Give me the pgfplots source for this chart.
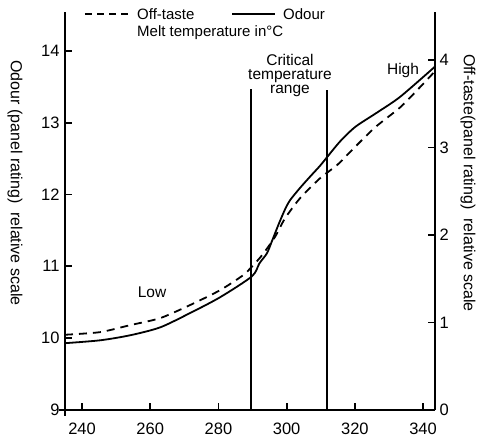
\documentclass[border=0pt]{standalone}
\usepackage{pgfplots}
\pgfplotsset{compat=1.18}
\usepackage{fontspec}
\setmainfont{Liberation Sans}
\begin{document}
\begin{tikzpicture}
\pgfplotsset{
 base/.style={
  scale only axis, width=370pt, height=398pt,
  xmin=235, xmax=343.5,
  tick align=inside, major tick length=7pt,
  tick style={line width=1.8pt, black},
  axis line style={-, line width=2.2pt},
  tick label style={font=\fontsize{16.5}{18}\selectfont},
  /pgf/number format/assume math mode=true,
  clip=false,
 }
}
\begin{axis}[base,
  ymin=9, ymax=14.54,
  axis x line*=bottom, axis y line*=left,
  xtick={240,260,...,340}, ytick={9,...,14},
  x axis line style={shorten <=-6pt},
  y axis line style={shorten <=-6pt},
  xticklabel style={yshift=-9pt},
  yticklabel style={xshift=-2pt},
]
% Odour (solid, left axis)
\addplot[black, line width=1.8pt, smooth, tension=0.45] coordinates {
(235.0,9.93)(245.3,9.97)(254.1,10.04)(262.9,10.15)(271.7,10.35)(280.5,10.57)
(289.8,10.86)(292.0,11.04)(294.2,11.18)(295.6,11.34)(297.6,11.58)(299.5,11.79)
(301.0,11.92)(303.9,12.09)(306.9,12.25)(309.8,12.40)(312.2,12.54)(315.7,12.74)
(320.1,12.94)(326.5,13.14)(333.3,13.36)(343.5,13.78)};
% critical temperature range limits
\addplot[black, line width=2pt] coordinates {(289.6,9)(289.6,13.47)};
\addplot[black, line width=2pt] coordinates {(311.8,9)(311.8,13.45)};
\end{axis}
\begin{axis}[base,
  ymin=0, ymax=4.55,
  axis x line=none, axis y line*=right,
  ytick={0,...,4},
  yticklabel style={xshift=1pt},
]
% Off-taste (dashed, right axis)
\addplot[black, line width=1.8pt, smooth, tension=0.4, dash pattern=on 8pt off 6pt] coordinates {
(235.0,0.86)(245.3,0.89)(254.1,0.97)(262.9,1.05)(271.7,1.20)(280.5,1.37)
(287.2,1.54)(289.6,1.63)(292.8,1.77)(296.6,1.98)(299.5,2.19)(303.9,2.42)
(309.8,2.65)(314.8,2.80)(318.6,2.95)(325.9,3.23)(333.3,3.46)(339.1,3.69)(343.2,3.86)};
\end{axis}
% axis titles
\node[font=\fontsize{16}{18}\selectfont, rotate=-90] at (-50pt,227pt) {Odour (panel rating)\ \ relative scale};
\node[font=\fontsize{16}{18}\selectfont, rotate=-90] at (403pt,227pt) {Off-taste(panel rating)\ \ relative scale};
% legend
\draw[line width=1.5pt, dash pattern=on 7pt off 5pt] (20pt,396pt) -- (65pt,396pt);
\node[anchor=west, inner sep=0pt, font=\fontsize{15}{15}\selectfont] at (72pt,396pt) {Off-taste};
\draw[line width=1.5pt] (167pt,396pt) -- (210pt,396pt);
\node[anchor=west, inner sep=0pt, font=\fontsize{15}{15}\selectfont] at (218pt,396pt) {Odour};
\node[anchor=west, inner sep=0pt, font=\fontsize{15}{15}\selectfont] at (72pt,377pt) {Melt temperature in°C};
% annotations
\node[align=center, font=\fontsize{15.5}{14}\selectfont] at (225pt,335pt) {Critical\\temperature\\range};
\node[font=\fontsize{15.5}{15}\selectfont] at (338pt,340pt) {High};
\node[font=\fontsize{15.5}{15}\selectfont] at (87pt,118pt) {Low};
\pgfresetboundingbox
\path (-65pt,-31pt) rectangle (417pt,410pt);
\end{tikzpicture}
\end{document}
